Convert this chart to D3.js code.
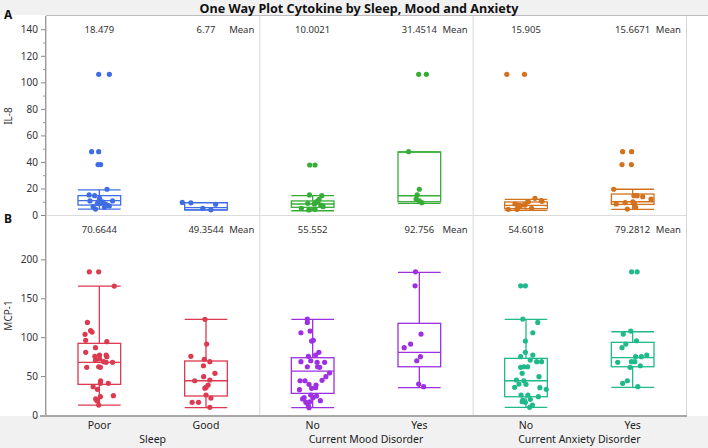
<!DOCTYPE html>
<html><head><meta charset="utf-8">
<script src="https://cdn.jsdelivr.net/npm/d3@7"></script>
<style>body{margin:0;background:#fff}</style>
</head><body><svg id="c" width="708" height="448"></svg>
<script>
// ---------------- data ----------------
const chartTitle = "One Way Plot Cytokine by Sleep, Mood and Anxiety";
const factors = ["Sleep", "Current Mood Disorder", "Current Anxiety Disorder"];
const levels = [["Poor", "Good"], ["No", "Yes"], ["No", "Yes"]];
const responses = ["IL-8", "MCP-1"];
const panelLetters = ["A", "B"];
const il8Ticks = [0, 20, 40, 60, 80, 100, 120, 140];
const il8MinorTicks = [10, 30, 50, 70, 90, 110, 130];
const mcp1Ticks = [0, 50, 100, 150, 200];
const il8Means = ["18.479", "6.77", "10.0021", "31.4514", "15.905", "15.6671"];
const mcp1Means = ["70.6644", "49.3544", "55.552", "92.756", "54.6018", "79.2812"];

// box stats: [lowWhisker, q1, median, q3, highWhisker]
const il8Boxes = [
  [4.4, 7.5, 10.8, 14.6, 19.0],
  [3.8, 3.8, 5.6, 9.3, 9.3],
  [3.2, 5.8, 8.3, 10.6, 14.6],
  [8.8, 10.0, 14.5, 47.5, 47.5],
  [3.5, 4.8, 7.2, 9.8, 11.8],
  [4.3, 8.0, 10.0, 15.8, 19.4]
];
const mcp1Boxes = [
  [12.6, 39.4, 67.7, 92.1, 165.7],
  [9.6, 24.4, 44.0, 69.4, 123.0],
  [9.4, 27.8, 56.5, 73.6, 123.0],
  [35.1, 62.0, 80.5, 117.8, 183.3],
  [9.9, 23.5, 44.0, 72.8, 123.0],
  [35.6, 62.0, 73.6, 93.4, 107.0]
];

// observations: [value, jitter (fraction of half box width)]
const il8SleepPoor = [[106,-0.03],[106,0.47],[47.7,-0.36],[47.7,-0.03],[38,-0.06],[38,0.06],[19.4,0.36],[15.1,-0.48],[14.6,-0.22],[12.6,0.01],[10.6,-0.44],[10.0,0.16],[10.6,0.62],[8.8,-0.09],[8.6,0.05],[8.3,0.29],[6.3,-0.29],[6.8,0.47],[5.8,0.24],[4.5,-0.18],[7.2,0.40],[11.5,0.0]];
const il8SleepGood = [[9.5,-1.11],[9.2,-0.71],[5.0,-0.15],[3.9,0.23],[8.1,0.45]];
const il8MoodNo = [[37.7,-0.14],[37.7,0.11],[15.1,-0.15],[14.6,0.43],[11.8,0.3],[10,0.18],[8.8,-0.23],[8.3,0.08],[7.5,0.38],[7,0.45],[5,-0.53],[4.3,-0.15],[3.8,-0.18],[4.3,0.11],[6.3,0.49],[10.6,0.25],[9.0,0.1]];
const il8MoodYes = [[106,-0.03],[106,0.33],[47.7,-0.5],[19.4,0],[15.1,-0.1],[12,-0.15],[10.6,0],[9.3,0.12]];
const il8AnxNo = [[106,-0.9],[106,-0.07],[4.3,-0.83],[8.3,-0.52],[7.5,-0.37],[7.0,-0.26],[4.5,-0.42],[7.5,-0.04],[10,0.11],[5,0.26],[12.6,0.42],[10.8,0.72],[10.3,0.75],[7.8,-0.07],[6.3,-0.34],[4.3,-0.42]];
const il8AnxYes = [[47.7,-0.47],[47.7,-0.05],[38,-0.5],[38,-0.06],[19.4,-0.89],[14.6,0.06],[14.6,0.21],[13.8,0.47],[12,0.86],[8.3,-0.77],[9.3,-0.35],[10,0.01],[8.3,0.09],[4.5,-0.25],[5.8,0.14]];

const mcp1SleepPoor = [[184,-0.47],[184,-0.03],[165.7,0.7],[119,-0.56],[108.3,-0.41],[106.5,-0.34],[103.7,-0.67],[96,-0.64],[94.2,0.35],[86.5,-0.18],[80.5,-0.64],[75.4,-0.21],[77,0.01],[77,0.32],[75,0.35],[70.3,-0.18],[72,0.01],[68.5,0.2],[67.7,0.32],[67.7,0.62],[61.3,-0.59],[62,-0.03],[61.3,0.05],[44,0.06],[40.7,0.05],[40.7,0.42],[36.4,-0.29],[33,-0.09],[23.5,0.05],[20.6,-0.17],[18.4,-0.11],[12.8,-0.03],[24.8,0.66]];
const mcp1SleepGood = [[123,-0.05],[91.2,0.03],[75.4,-0.71],[71.5,-0.08],[68.5,0.18],[63.3,-0.12],[49.2,-0.11],[53.5,0.42],[44,-0.53],[45,0.18],[38.5,0.1],[35.6,0],[34.5,-0.05],[25.7,0],[21.8,0.23],[16.3,-0.65],[16.3,-0.35],[9.9,0.18]];
const mcp1MoodNo = [[123.3,-0.25],[119,-0.25],[105.7,-0.55],[107.9,-0.12],[95,-0.05],[96,0.03],[75.4,-0.2],[80.5,0.29],[77,0.14],[68.5,-0.55],[69.7,-0.09],[67.7,0.21],[67.7,0.56],[62,-0.25],[62,0.23],[61.3,0.33],[54,0.79],[49.2,0.62],[44.5,0.44],[44,-0.59],[44,-0.36],[39.4,-0.17],[38.5,0.16],[35.1,0.14],[34.3,-0.05],[32.5,-0.62],[25.7,-0.09],[24.4,0.18],[22.2,0.01],[20.6,-0.47],[18.4,0.36],[16.3,-0.32],[12.8,-0.21],[9.4,-0.17],[22.2,-0.4],[17,-0.14]];
const mcp1MoodYes = [[184,-0.18],[166,-0.2],[104,0.08],[91.2,-0.41],[86.5,-0.71],[75,0.05],[69.7,-0.12],[39.8,-0.03],[36.4,0.2]];
const mcp1AnxNo = [[166,-0.25],[166,-0.03],[123.3,-0.15],[119,0.55],[105.7,0.32],[95,-0.03],[80.5,-0.03],[75,-0.25],[77,0.32],[70.6,0.2],[68.5,0.5],[68.5,0.73],[61.3,-0.25],[62,-0.1],[62,0.08],[53.5,-0.18],[49.2,0.61],[45,-0.45],[44,-0.1],[39.8,-0.33],[39.4,0],[35.6,-0.53],[35.1,0.65],[33,0.95],[25.7,-0.23],[25.7,0.09],[23.5,0.58],[20.2,0.2],[19.3,-0.15],[16.3,-0.03],[12.8,0.3],[9.9,0.17],[17,-0.18]];
const mcp1AnxYes = [[184,-0.05],[184,0.21],[107.9,-0.09],[104,-0.44],[95.4,0.18],[91.2,-0.32],[86.5,-0.5],[77,0.66],[75,0.41],[75,0.14],[67.7,-0.7],[68.5,-0.06],[68.5,0.1],[63.3,0.36],[61.3,-0.12],[44,-0.25],[40.7,-0.47],[36.4,0.24]];

const il8Groups = [il8SleepPoor, il8SleepGood, il8MoodNo, il8MoodYes, il8AnxNo, il8AnxYes];
const mcp1Groups = [mcp1SleepPoor, mcp1SleepGood, mcp1MoodNo, mcp1MoodYes, mcp1AnxNo, mcp1AnxYes];

// ---------------- style ----------------
const il8Colors = ["#3f6ee3", "#37ad37", "#d4711d"];
const mcp1Colors = ["#dc3a50", "#9d30e2", "#20b98b"];
const FONT = "'Noto Sans', 'Open Sans', sans-serif";

const svg = d3.select("#c").style("font-family", FONT);
const W = 708, H = 448;
const plotL = 46, plotR = 686;

svg.append("rect").attr("width", W).attr("height", H).attr("fill", "#ffffff");
svg.append("rect").attr("x", 0).attr("y", 0).attr("width", W).attr("height", 15).attr("fill", "#f1f1f1");
svg.append("line").attr("x1", 46).attr("x2", W).attr("y1", 15.5).attr("y2", 15.5).attr("stroke", "#bcbcbc");
svg.append("rect").attr("x", 0).attr("y", 416).attr("width", W).attr("height", H - 416).attr("fill", "#f1f1f1");

svg.append("text").attr("x", 359).attr("y", 12.5).attr("text-anchor", "middle")
  .attr("font-weight", "bold").attr("font-size", 12.6).attr("fill", "#111").text(chartTitle);

const xFactor = d3.scaleBand().domain(factors).range([plotL, plotR]);
const bw = xFactor.bandwidth();
const xLevel = d3.scalePoint().domain([0, 1]).range([0, bw]).padding(0.5);
const boxHalf = bw * 0.1;

const rows = [
  { y: d3.scaleLinear().domain([0, 150]).range([215, 16]), top: 16, bottom: 216,
    ticks: il8Ticks, minor: il8MinorTicks, groups: il8Groups, boxes: il8Boxes, means: il8Means, colors: il8Colors },
  { y: d3.scaleLinear().domain([0, 257]).range([415, 215]), top: 216, bottom: 415,
    ticks: mcp1Ticks, minor: [], groups: mcp1Groups, boxes: mcp1Boxes, means: mcp1Means, colors: mcp1Colors }
];

rows.forEach((row, r) => {
  const g = svg.append("g");
  factors.forEach(f => {
    g.append("line").attr("x1", xFactor(f) + 0.5).attr("x2", xFactor(f) + 0.5)
      .attr("y1", row.top).attr("y2", row.bottom).attr("stroke", "#d6d6d6");
  });
  g.append("line").attr("x1", plotR + 0.5).attr("x2", plotR + 0.5)
    .attr("y1", row.top).attr("y2", row.bottom).attr("stroke", "#d6d6d6");

  const ax = g.append("g").attr("transform", `translate(${plotL},0)`)
    .call(d3.axisLeft(row.y).tickValues(row.ticks).tickSize(5).tickPadding(3));
  ax.select(".domain").remove();
  ax.selectAll(".tick line").attr("stroke", "#888");
  ax.selectAll(".tick text").attr("font-size", 10).attr("fill", "#333").attr("font-family", FONT);
  const axm = g.append("g").attr("transform", `translate(${plotL},0)`)
    .call(d3.axisLeft(row.y).tickValues(row.minor).tickSize(3).tickFormat(""));
  axm.select(".domain").remove();
  axm.selectAll(".tick line").attr("stroke", "#999");
  g.append("line").attr("x1", plotL - 0.5).attr("x2", plotL - 0.5).attr("y1", row.top).attr("y2", row.bottom).attr("stroke", "#9a9a9a");

  const yc = (row.top + row.bottom) / 2;
  g.append("text").attr("transform", `translate(12,${yc}) rotate(-90)`).attr("text-anchor", "middle")
    .attr("font-size", 10).attr("fill", "#333").text(responses[r]);
  g.append("text").attr("x", 4).attr("y", row.top + (r === 0 ? 2.5 : 7))
    .attr("font-weight", "bold").attr("font-size", 12).attr("fill", "#111").text(panelLetters[r]);

  factors.forEach((f, fi) => {
    const color = row.colors[fi];
    g.append("text").attr("x", xFactor(f) + bw - 5).attr("y", row.top + 16.5)
      .attr("text-anchor", "end").attr("font-size", 9.5).attr("fill", "#333").text("Mean");
    levels[fi].forEach((lv, li) => {
      const k = fi * 2 + li;
      const cx = xFactor(f) + xLevel(li);
      const [lo, q1, med, q3, hi] = row.boxes[k];
      const gg = g.append("g").attr("stroke", color).attr("fill", "none").attr("stroke-width", 1.3);
      gg.append("rect").attr("x", cx - boxHalf).attr("y", row.y(q3))
        .attr("width", boxHalf * 2).attr("height", Math.max(0.5, row.y(q1) - row.y(q3)));
      gg.append("line").attr("x1", cx - boxHalf).attr("x2", cx + boxHalf).attr("y1", row.y(med)).attr("y2", row.y(med));
      gg.append("line").attr("x1", cx).attr("x2", cx).attr("y1", row.y(q3)).attr("y2", row.y(hi));
      gg.append("line").attr("x1", cx).attr("x2", cx).attr("y1", row.y(q1)).attr("y2", row.y(lo));
      gg.append("line").attr("x1", cx - boxHalf).attr("x2", cx + boxHalf).attr("y1", row.y(hi)).attr("y2", row.y(hi));
      gg.append("line").attr("x1", cx - boxHalf).attr("x2", cx + boxHalf).attr("y1", row.y(lo)).attr("y2", row.y(lo));

      g.append("g").selectAll("circle").data(row.groups[k]).join("circle")
        .attr("cx", d => cx + d[1] * boxHalf).attr("cy", d => row.y(d[0]))
        .attr("r", 2.6).attr("fill", color);

      g.append("text").attr("x", cx).attr("y", row.top + 16.5).attr("text-anchor", "middle")
        .attr("font-size", 9.5).attr("fill", "#333").text(row.means[k]);
    });
  });
});

svg.append("line").attr("x1", plotL).attr("x2", plotR).attr("y1", 215.5).attr("y2", 215.5).attr("stroke", "#dcdcdc");
svg.append("line").attr("x1", plotL - 6).attr("x2", plotR + 1).attr("y1", 416).attr("y2", 416).attr("stroke", "#a8a8a8").attr("stroke-width", 2);

factors.forEach((f, fi) => {
  levels[fi].forEach((lv, li) => {
    svg.append("text").attr("x", xFactor(f) + xLevel(li)).attr("y", 428.5).attr("text-anchor", "middle")
      .attr("font-size", 10.5).attr("fill", "#222").text(lv);
  });
  svg.append("text").attr("x", xFactor(f) + bw / 2).attr("y", 442.5).attr("text-anchor", "middle")
    .attr("font-size", 10.5).attr("fill", "#222").text(f);
});
</script></body></html>
